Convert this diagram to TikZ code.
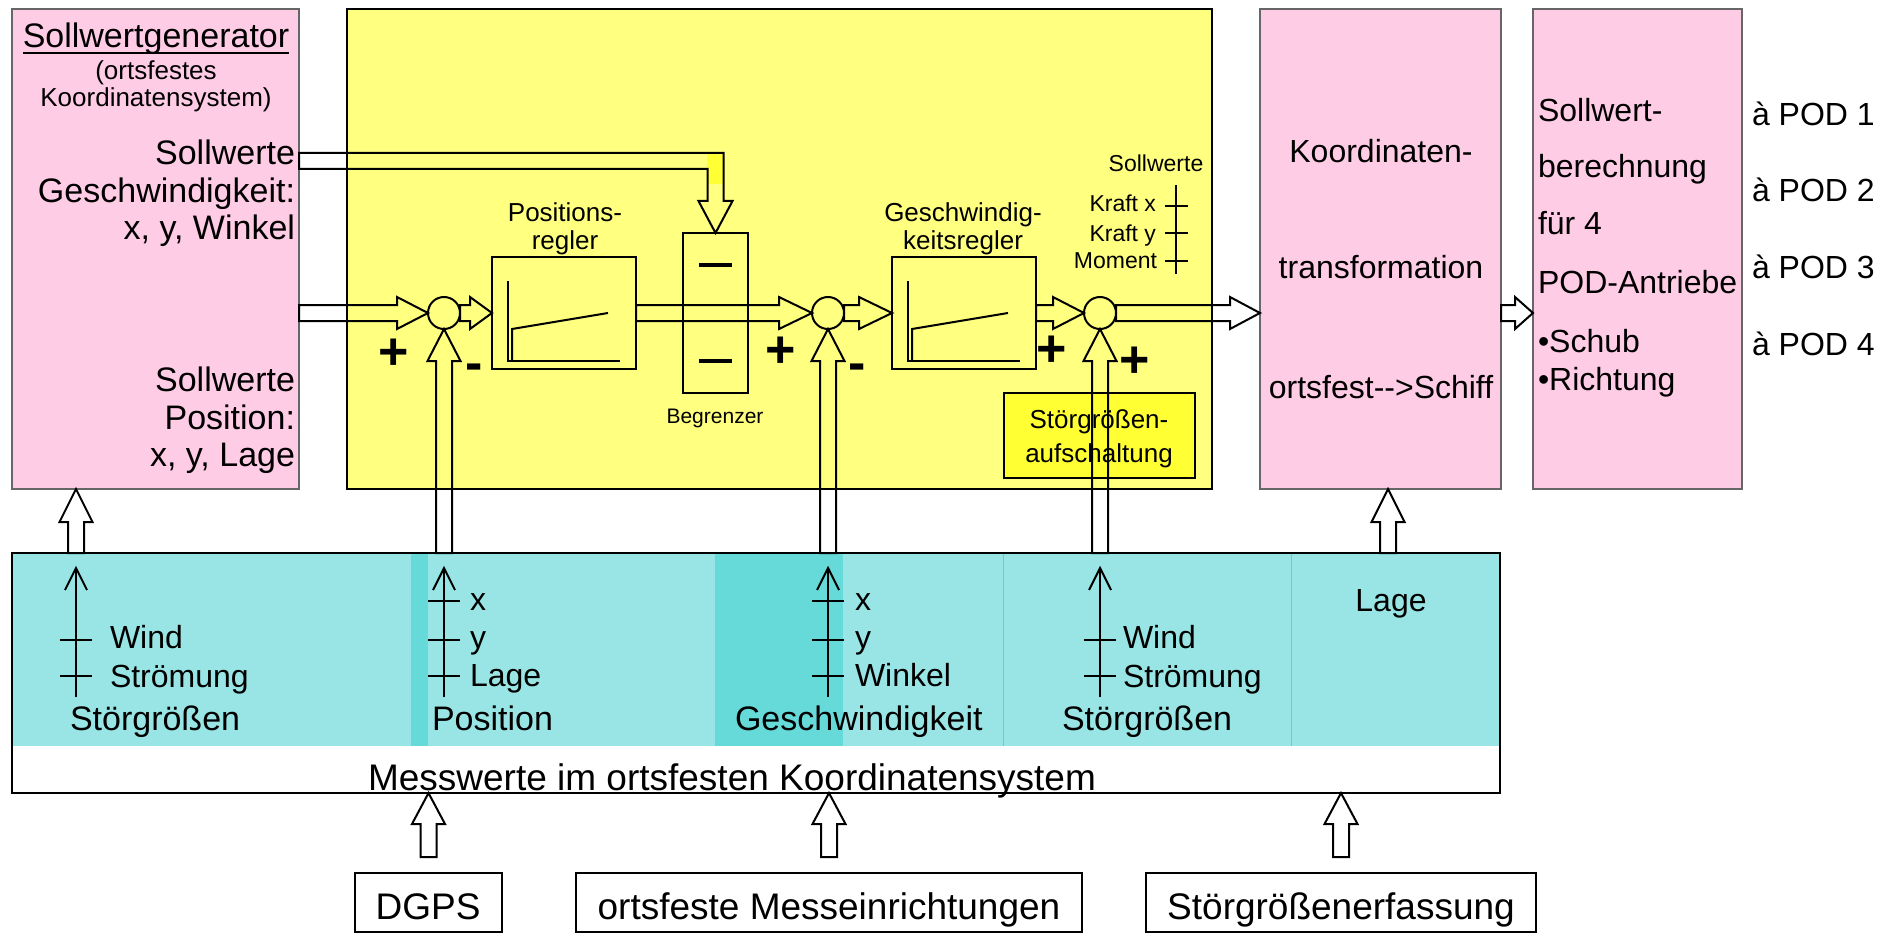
\documentclass[tikz,border=0pt]{standalone}
\usepackage{fontspec}
\setmainfont{Liberation Sans}
\usetikzlibrary{calc}
\definecolor{pinkc}{HTML}{FFCCE6}
\definecolor{yellowc}{HTML}{FFFF80}
\definecolor{yellowd}{HTML}{FFFF33}
\definecolor{cyanc}{HTML}{99E5E5}
\definecolor{cyand}{HTML}{66D9D9}
\definecolor{cyanl}{HTML}{66CCCC}
\definecolor{pinkborder}{HTML}{666666}
\newcommand\fs[1]{\fontsize{#1}{#1}\selectfont}
\tikzset{
 box/.style={draw, line width=2pt, inner sep=0pt, outer sep=0pt, anchor=north west},
 pinkbox/.style={box, fill=pinkc, draw=pinkborder},
 t/.style={inner sep=0pt, outer sep=0pt, text=black},
 f21/.style={t, font=\fs{21}},
 f23/.style={t, font=\fs{23}},
 f26/.style={t, font=\fs{26}},
 f32/.style={t, font=\fs{32}},
 f34/.style={t, font=\fs{34}},
 f37/.style={t, font=\fs{37}},
 sign/.style={t, font=\fs{52}\bfseries, anchor=base},
 barrow/.style={draw, line width=2pt, line join=miter},
 thinl/.style={line width=2pt},
 sumc/.style={circle, draw, line width=2pt, minimum size=32pt, inner sep=0pt, outer sep=0pt},
}
% horizontal block arrow: from, to, head length
\newcommand\HArrow[3]{\draw[barrow] ($(#1)+(0,-8)$) -- ($(#2)+(-#3,-8)$) -- ($(#2)+(-#3,-16)$) -- (#2) -- ($(#2)+(-#3,16)$) -- ($(#2)+(-#3,8)$) -- ($(#1)+(0,8)$) -- cycle;}
% vertical (upward) block arrow: from, to, head length
\newcommand\VArrow[3]{\draw[barrow] ($(#1)+(-8,0)$) -- ($(#2)+(-8,#3)$) -- ($(#2)+(-16.5,#3)$) -- (#2) -- ($(#2)+(16.5,#3)$) -- ($(#2)+(8,#3)$) -- ($(#1)+(8,0)$) -- cycle;}
% controller characteristic
\newcommand\ReglerCurve[1]{\draw[line width=2pt] ($(#1.north west)+(16,24)$) -- ($(#1.north west)+(16,104)$) -- ($(#1.north west)+(128,104)$);
 \draw[line width=2pt] ($(#1.north west)+(20,104)$) -- ($(#1.north west)+(20,72)$) -- ($(#1.north west)+(116,56)$);}
% thin arrow in the measurement band
\newcommand\BandArrow[1]{\draw[thinl] (#1,697) -- (#1,568); \draw[thinl] ($(#1,590)+(-11,0)$) -- (#1,568) -- ($(#1,590)+(11,0)$);}
\newcommand\BandTick[2]{\draw[thinl] ($(#1,#2)+(-16,0)$) -- ($(#1,#2)+(16,0)$);}
\begin{document}
\begin{tikzpicture}[x=1pt,y=-1pt]
\useasboundingbox[fill=white] (0,0) rectangle (1890,936);

% ---------- main boxes
\node[pinkbox, minimum width=287pt, minimum height=480pt] (sg) at (12,9) {};
\node[box, fill=yellowc, minimum width=865pt, minimum height=480pt] (ctrl) at (347,9) {};
\node[pinkbox, minimum width=241pt, minimum height=480pt] (kt) at (1260,9) {};
\node[pinkbox, minimum width=209pt, minimum height=480pt] (sb) at (1533,9) {};
\node[box, fill=yellowd, minimum width=191pt, minimum height=85pt] (sga) at (1004,393) {};

% ---------- measurement band
\fill[cyanc] (12,553) rectangle (1500,746);
\fill[cyand] (411,553) rectangle (428,746);
\fill[cyand] (715,553) rectangle (843,746);
\draw[cyanl, line width=1pt] (1003,553) -- (1003,746) (1291,553) -- (1291,746);
\node[box, minimum width=1488pt, minimum height=240pt] (meas) at (12,553) {};

% ---------- bottom source boxes
\node[box, minimum width=147pt, minimum height=59pt] (dgps) at (355,873) {};
\node[box, minimum width=506pt, minimum height=59pt] (ort) at (576,873) {};
\node[box, minimum width=390pt, minimum height=59pt] (serf) at (1146,873) {};

% ---------- Sollwertgenerator texts
\node[f34, anchor=base] (sgt) at (156,48) {Sollwertgenerator};
\draw[line width=2pt] ($(sgt.base west)+(0,5)$) -- ($(sgt.base east)+(0,5)$);
\node[f26, anchor=base] (sgt2) at (156,80) {(ortsfestes};
\node[f26, anchor=base] (sgt3) at (156,107) {Koordinatensystem)};
\node[f34, anchor=base east] (sv1) at (295,165) {Sollwerte};
\node[f34, anchor=base east] (sv2) at (295,203) {Geschwindigkeit:};
\node[f34, anchor=base east] (sv3) at (295,240) {x, y, Winkel};
\node[f34, anchor=base east] (sp1) at (295,391) {Sollwerte};
\node[f34, anchor=base east] (sp2) at (295,429) {Position:};
\node[f34, anchor=base east] (sp3) at (295,466) {x, y, Lage};

% ---------- controller blocks
\node[box, minimum width=144pt, minimum height=112pt] (posr) at (492,257) {};
\node[box, minimum width=144pt, minimum height=112pt] (gesr) at (892,257) {};
\node[box, minimum width=65pt, minimum height=160pt] (begr) at (683,233) {};
\ReglerCurve{posr}
\ReglerCurve{gesr}
\draw[line width=4pt] ($(begr.north)+(-16.5,32)$) -- ($(begr.north)+(16.5,32)$);
\draw[line width=4pt] ($(begr.north)+(-16.5,128)$) -- ($(begr.north)+(16.5,128)$);
\node[sumc] (c1) at (444,313) {};
\node[sumc] (c2) at (828,313) {};
\node[sumc] (c3) at (1100,313) {};

\node[f26, anchor=base] (pl1) at (565,222) {Positions-};
\node[f26, anchor=base] (pl2) at (565,250) {regler};
\node[f21, anchor=base] (bl) at (715,423) {Begrenzer};
\node[f26, anchor=base] (gl1) at (963,222) {Geschwindig-};
\node[f26, anchor=base] (gl2) at (963,250) {keitsregler};
\node[f23, anchor=base] (svl) at (1156,172) {Sollwerte};
\node[f23, anchor=base east] (kx) at (1156,212) {Kraft x};
\node[f23, anchor=base east] (ky) at (1156,241) {Kraft y};
\node[f23, anchor=base east] (mo) at (1157,269) {Moment};
\draw[line width=2pt] (1176,185) -- (1176,274);
\draw[line width=2pt] (1165,206) -- (1188,206) (1165,233) -- (1188,233) (1165,261) -- (1188,261);
\node[f26, anchor=base] (sa1) at (1099,428) {Störgrößen-};
\node[f26, anchor=base] (sa2) at (1099,462) {aufschaltung};

\node[sign] (p1) at (394,369) {+};
\node[sign] (m1) at (474,380) {-};
\node[sign] (p2) at (781,367) {+};
\node[sign] (m2) at (857,380) {-};
\node[sign] (p3) at (1052,366) {+};
\node[sign] (p4) at (1135,377) {+};

% ---------- right boxes texts
\node[f32, anchor=base] (k1) at (1381,163) {Koordinaten-};
\node[f32, anchor=base] (k2) at (1381,278) {transformation};
\node[f32, anchor=base] (k3) at (1381,398) {ortsfest{-}{-}>Schiff};
\node[f32, anchor=base west] (b1) at (1538,122) {Sollwert-};
\node[f32, anchor=base west] (b2) at (1538,178) {berechnung};
\node[f32, anchor=base west] (b3) at (1538,235) {für 4};
\node[f32, anchor=base west] (b4) at (1538,293) {POD-Antriebe};
\node[f32, anchor=base west] (b5) at (1538,352) {•Schub};
\node[f32, anchor=base west] (b6) at (1538,390) {•Richtung};
\node[f32, anchor=base west] (pod1) at (1752,126) {à POD 1};
\node[f32, anchor=base west] (pod2) at (1752,202) {à POD 2};
\node[f32, anchor=base west] (pod3) at (1752,278) {à POD 3};
\node[f32, anchor=base west] (pod4) at (1752,355) {à POD 4};

% ---------- band contents
\BandArrow{76}
\BandTick{76}{640}\BandTick{76}{676}
\node[f32, anchor=base west] (w1) at (110,648) {Wind};
\node[f32, anchor=base west] (s1) at (110,687) {Strömung};
\node[f34, anchor=base west] (st1) at (70,730) {Störgrößen};
\BandArrow{444}
\BandTick{444}{601}\BandTick{444}{640}\BandTick{444}{676}
\node[f32, anchor=base west] (px) at (470,610) {x};
\node[f32, anchor=base west] (py) at (470,648) {y};
\node[f32, anchor=base west] (pl) at (470,686) {Lage};
\node[f34, anchor=base west] (pos) at (432,730) {Position};
\BandArrow{828}
\BandTick{828}{601}\BandTick{828}{640}\BandTick{828}{676}
\node[f32, anchor=base west] (gx) at (855,610) {x};
\node[f32, anchor=base west] (gy) at (855,648) {y};
\node[f32, anchor=base west] (gw) at (855,686) {Winkel};
\node[f34, anchor=base west] (gesch) at (735,730) {Geschwindigkeit};
\BandArrow{1100}
\BandTick{1100}{640}\BandTick{1100}{676}
\node[f32, anchor=base west] (w2) at (1123,648) {Wind};
\node[f32, anchor=base west] (s2) at (1123,687) {Strömung};
\node[f34, anchor=base west] (st2) at (1062,730) {Störgrößen};
\node[f32, anchor=base] (lage) at (1391,611) {Lage};
\node[f37, anchor=base west] (mw) at (368,790) {Messwerte im ortsfesten Koordinatensystem};

\node[f37, anchor=base] (dgpst) at (428,919) {DGPS};
\node[f37, anchor=base] (ortt) at (829,919) {ortsfeste Messeinrichtungen};
\node[f37, anchor=base] (serft) at (1341,919) {Störgrößenerfassung};

% ---------- connectors
\coordinate (sgv) at ($(sg.north east)+(0,152)$);
\fill[yellowd] (707,153) rectangle (723,184);
\draw[barrow] ($(sgv)+(0,-8)$) -- ($(begr.north)+(8,-80)$) -- ($(begr.north)+(8,-32)$) -- ($(begr.north)+(17,-32)$) -- (begr.north) -- ($(begr.north)+(-17,-32)$) -- ($(begr.north)+(-8,-32)$) -- ($(begr.north)+(-8,-64)$) -- ($(sgv)+(0,8)$) -- cycle;

\coordinate (sgm) at (sg.east |- c1.west);
\coordinate (ktin) at (kt.west |- c3.east);
\coordinate (ktout) at (kt.east |- c3.east);
\coordinate (sbin) at (sb.west |- c3.east);
\HArrow{sgm}{c1.west}{31}
\HArrow{c1.east}{posr.west}{22}
\HArrow{posr.east}{c2.west}{33}
\HArrow{c2.east}{gesr.west}{33}
\HArrow{gesr.east}{c3.west}{31}
\HArrow{c3.east}{ktin}{30}
\HArrow{ktout}{sbin}{18}

\coordinate (fb1) at (c1 |- meas.north);
\coordinate (fb2) at (c2 |- meas.north);
\coordinate (fb3) at (c3 |- meas.north);
\VArrow{fb1}{c1.south}{32}
\VArrow{fb2}{c2.south}{32}
\VArrow{fb3}{c3.south}{32}

\coordinate (sgin) at ($(sg.south west)+(64,0)$);
\coordinate (sgout) at (sgin |- meas.north);
\VArrow{sgout}{sgin}{33}
\coordinate (ktin2) at ($(kt.south west)+(128,0)$);
\coordinate (ktout2) at (ktin2 |- meas.north);
\VArrow{ktout2}{ktin2}{33}

\coordinate (d0) at ($(dgps.north)+(0,-16)$);
\coordinate (d1) at (dgps.north |- meas.south);
\VArrow{d0}{d1}{31}
\coordinate (o0) at ($(ort.north)+(0,-16)$);
\coordinate (o1) at (ort.north |- meas.south);
\VArrow{o0}{o1}{31}
\coordinate (e0) at ($(serf.north)+(0,-16)$);
\coordinate (e1) at (serf.north |- meas.south);
\VArrow{e0}{e1}{31}
\end{tikzpicture}
\end{document}
